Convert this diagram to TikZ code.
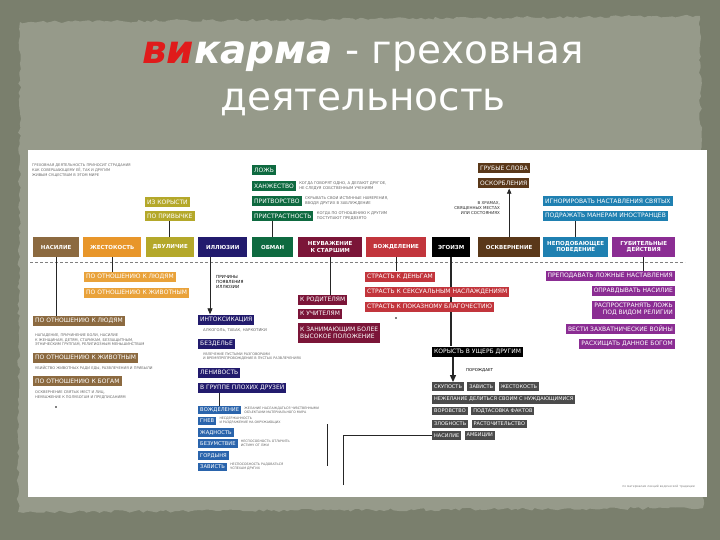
\documentclass[tikz,border=0pt]{standalone}
\usepackage{fontspec}
\setmainfont{DejaVu Sans}
\usetikzlibrary{positioning,arrows.meta,decorations.pathmorphing}

\definecolor{frameC}{HTML}{7A7F6D}
\definecolor{paperC}{HTML}{969A8A}
\definecolor{viC}{HTML}{E01B1B}
\definecolor{nasC}{HTML}{8C6A40}
\definecolor{zhestC}{HTML}{E8962A}
\definecolor{zhlightC}{HTML}{E9A23A}
\definecolor{dvulC}{HTML}{B4A82A}
\definecolor{illC}{HTML}{221B6D}
\definecolor{obmC}{HTML}{0E6A40}
\definecolor{neuvC}{HTML}{7B1538}
\definecolor{vozhC}{HTML}{C2353C}
\definecolor{oskvC}{HTML}{5A3819}
\definecolor{nepC}{HTML}{1F80B1}
\definecolor{gubC}{HTML}{8B2D93}
\definecolor{vragC}{HTML}{2A64AC}
\definecolor{greyC}{HTML}{4B4B4B}
\definecolor{noteC}{HTML}{666666}

\tikzset{
  cat/.style={fill=#1, text=white, font=\fontsize{5.5}{6.5}\selectfont\bfseries,
    minimum height=20, inner sep=1, align=center, anchor=west},
  sub/.style={fill=#1, text=white, font=\fontsize{6}{7}\selectfont,
    minimum height=10, inner xsep=2, inner ysep=1, anchor=west},
  vrag/.style={sub=vragC, font=\fontsize{5.2}{6}\selectfont, minimum height=8.5},
  greybox/.style={sub=greyC, font=\fontsize{5}{6}\selectfont, minimum height=8.5},
  remark/.style={text=noteC, font=\fontsize{3.8}{4.6}\selectfont, inner sep=0,
    align=left, anchor=west},
  wire/.style={draw=black!85, line width=0.8},
}

\begin{document}
\begin{tikzpicture}[x=1pt,y=-1pt]
    %% Background
    \useasboundingbox (0,0) rectangle (720,540);
    \fill[frameC] (0,0) rectangle (720,540);
    \fill[paperC, decorate, decoration={random steps,segment length=4pt,amplitude=1.5pt}]
        (20,22) -- (700,16) -- (703,508) -- (18,512) -- cycle;
    \fill[white] (28,150) rectangle (707,497);

    %% Title
    \node[anchor=base, text=white, font=\fontsize{39}{44}\selectfont] (title) at (363,64)
        {\textbf{\textit{\textcolor{viC}{ви}карма}} - греховная};
    \node[anchor=base, text=white, font=\fontsize{39}{44}\selectfont] (title2) at (363,111)
        {деятельность};

    %% Intro
    \node[remark, font=\fontsize{3.6}{5}\selectfont] (intro) at (32,170)
        {ГРЕХОВНАЯ ДЕЯТЕЛЬНОСТЬ ПРИНОСИТ СТРАДАНИЯ\\КАК СОВЕРШАЮЩЕМУ ЕЁ, ТАК И ДРУГИМ\\ЖИВЫМ СУЩЕСТВАМ В ЭТОМ МИРЕ};

    %% Main row
    \node[cat=nasC, minimum width=46] (nas) at (33,247) {НАСИЛИЕ};
    \node[cat=zhestC, minimum width=58] (zhest) at (83,247) {ЖЕСТОКОСТЬ};
    \node[cat=dvulC, minimum width=48] (dvul) at (146,247) {ДВУЛИЧИЕ};
    \node[cat=illC, minimum width=49] (illuz) at (198,247) {ИЛЛЮЗИИ};
    \node[cat=obmC, minimum width=41] (obman) at (252,247) {ОБМАН};
    \node[cat=neuvC, minimum width=64] (neuv) at (298,247) {НЕУВАЖЕНИЕ\\К СТАРШИМ};
    \node[cat=vozhC, minimum width=60] (vozhd) at (366,247) {ВОЖДЕЛЕНИЕ};
    \node[cat=black, minimum width=38] (egoizm) at (432,247) {ЭГОИЗМ};
    \node[cat=oskvC, minimum width=62] (oskv) at (478,247) {ОСКВЕРНЕНИЕ};
    \node[cat=nepC, minimum width=65] (nepod) at (543,247) {НЕПОДОБАЮЩЕЕ\\ПОВЕДЕНИЕ};
    \node[cat=gubC, minimum width=63] (gubit) at (612,247) {ГУБИТЕЛЬНЫЕ\\ДЕЙСТВИЯ};
    \draw[densely dashed, gray] (30,262) -- (685,262);

    %% Above the row
    \node[sub=dvulC] (izkor) at (145,202) {ИЗ КОРЫСТИ};
    \node[sub=dvulC] (poprv) at (145,216) {ПО ПРИВЫЧКЕ};
    \draw[wire] (poprv.south) -- (poprv.south |- dvul.north);

    \node[sub=obmC] (lozh) at (252,170.5) {ЛОЖЬ};
    \node[sub=obmC] (hanzh) at (252,186) {ХАНЖЕСТВО};
    \node[sub=obmC] (pritv) at (252,201) {ПРИТВОРСТВО};
    \node[sub=obmC] (pristr) at (252,216) {ПРИСТРАСТНОСТЬ};
    \node[remark, right=3pt of hanzh] (hanzhnote) {КОГДА ГОВОРЯТ ОДНО, А ДЕЛАЮТ ДРУГОЕ,\\НЕ СЛЕДУЯ СОБСТВЕННЫМ УЧЕНИЯМ};
    \node[remark, right=3pt of pritv] (pritvnote) {СКРЫВАТЬ СВОИ ИСТИННЫЕ НАМЕРЕНИЯ,\\ВВОДЯ ДРУГИХ В ЗАБЛУЖДЕНИЕ};
    \node[remark, right=3pt of pristr] (pristrnote) {КОГДА ПО ОТНОШЕНИЮ К ДРУГИМ\\ПОСТУПАЮТ ПРЕДВЗЯТО};
    \draw[wire] (obman.north) -- (obman.north |- pristr.south);

    \node[sub=oskvC] (grub) at (478,168.5) {ГРУБЫЕ СЛОВА};
    \node[sub=oskvC] (oskorb) at (478,183.5) {ОСКОРБЛЕНИЯ};
    \draw[wire, -{Triangle[length=5pt,width=4.5pt]}] (oskv.north) -- (oskv.north |- oskorb.south);
    \node[remark, anchor=east, align=right, text=black!85, font=\fontsize{4}{5}\selectfont] (oskvnote) at (500,208)
        {В ХРАМАХ,\\СВЯЩЕННЫХ МЕСТАХ\\ИЛИ СОСТОЯНИЯХ};

    \node[sub=nepC] (ignor) at (543,201) {ИГНОРИРОВАТЬ НАСТАВЛЕНИЯ СВЯТЫХ};
    \node[sub=nepC] (podr) at (543,216) {ПОДРАЖАТЬ МАНЕРАМ ИНОСТРАНЦЕВ};
    \draw[wire] (nepod.north) -- (nepod.north |- podr.south);

    %% Violence
    \node[sub=nasC] (nppl) at (33,321) {ПО ОТНОШЕНИЮ К ЛЮДЯМ};
    \node[remark, font=\fontsize{3.6}{4.6}\selectfont] (npplnote) at (35,340)
        {НАПАДЕНИЕ, ПРИЧИНЕНИЕ БОЛИ, НАСИЛИЕ\\К ЖЕНЩИНАМ, ДЕТЯМ, СТАРИКАМ, БЕЗЗАЩИТНЫМ,\\ЭТНИЧЕСКИМ ГРУППАМ, РЕЛИГИОЗНЫМ МЕНЬШИНСТВАМ};
    \node[sub=nasC] (nzhiv) at (33,357.5) {ПО ОТНОШЕНИЮ К ЖИВОТНЫМ};
    \node[remark, font=\fontsize{3.6}{4.6}\selectfont] (nzhivnote) at (35,368)
        {УБИЙСТВО ЖИВОТНЫХ РАДИ ЕДЫ, РАЗВЛЕЧЕНИЯ И ПРИБЫЛИ};
    \node[sub=nasC] (nbog) at (33,381) {ПО ОТНОШЕНИЮ К БОГАМ};
    \node[remark, font=\fontsize{3.6}{4.6}\selectfont] (nbognote) at (35,395)
        {ОСКВЕРНЕНИЕ СВЯТЫХ МЕСТ И ЛИЦ,\\НЕУВАЖЕНИЕ К ПОЛУБОГАМ И ПРЕДПИСАНИЯМ};
    \fill (56,407) circle (0.9);
    \draw[wire] (nas.south) -- (nas.south |- nppl.north);

    %% Cruelty
    \node[sub=zhlightC] (zppl) at (84,277) {ПО ОТНОШЕНИЮ К ЛЮДЯМ};
    \node[sub=zhlightC] (zzhiv) at (84,292.5) {ПО ОТНОШЕНИЮ К ЖИВОТНЫМ};
    \draw[wire] (zhest.south) -- (zhest.south |- zppl.north);

    %% Illusions
    \coordinate (illx) at ([xshift=12pt]illuz.south west);
    \node[remark, text=black, font=\fontsize{4.2}{5.2}\selectfont] (whyill) at (216,282)
        {ПРИЧИНЫ\\ПОЯВЛЕНИЯ\\ИЛЛЮЗИИ};
    \node[sub=illC] (intox) at (198,319.5) {ИНТОКСИКАЦИЯ};
    \node[remark] (intoxnote) at (203,330) {АЛКОГОЛЬ, ТАБАК, НАРКОТИКИ};
    \node[sub=illC] (bezd) at (198,343.5) {БЕЗДЕЛЬЕ};
    \node[remark, font=\fontsize{3.4}{4.4}\selectfont] (bezdnote) at (203,356.5)
        {УВЛЕЧЕНИЕ ПУСТЫМИ РАЗГОВОРАМИ\\И ВРЕМЯПРЕПРОВОЖДЕНИЕ В ПУСТЫХ РАЗВЛЕЧЕНИЯХ};
    \node[sub=illC] (lenv) at (198,372.5) {ЛЕНИВОСТЬ};
    \node[sub=illC] (grpp) at (198,387.5) {В ГРУППЕ ПЛОХИХ ДРУЗЕЙ};
    \draw[wire, -{Triangle[length=6pt,width=5pt]}] (illx) -- (illx |- intox.north);

    \node[vrag] (vozh2) at (198,410) {ВОЖДЕЛЕНИЕ};
    \node[vrag] (gnev) at (198,421) {ГНЕВ};
    \node[vrag] (zhad) at (198,432.5) {ЖАДНОСТЬ};
    \node[vrag] (bezum) at (198,443.5) {БЕЗУМСТВИЕ};
    \node[vrag] (gord) at (198,455.5) {ГОРДЫНЯ};
    \node[vrag] (zavist) at (198,467) {ЗАВИСТЬ};
    \node[remark, font=\fontsize{3.2}{4}\selectfont, right=3pt of vozh2] (vozh2note)
        {ЖЕЛАНИЕ НАСЛАЖДАТЬСЯ ЧУВСТВЕННЫМИ\\ОБЪЕКТАМИ МАТЕРИАЛЬНОГО МИРА};
    \node[remark, font=\fontsize{3.2}{4}\selectfont, right=3pt of gnev] (gnevnote)
        {НЕСДЕРЖАННОСТЬ\\И РАЗДРАЖЕНИЕ НА ОКРУЖАЮЩИХ};
    \node[remark, font=\fontsize{3.2}{4}\selectfont, right=3pt of bezum] (bezumnote)
        {НЕСПОСОБНОСТЬ ОТЛИЧИТЬ\\ИСТИНУ ОТ ЛЖИ};
    \node[remark, font=\fontsize{3.2}{4}\selectfont, right=3pt of zavist] (zavistnote)
        {НЕСПОСОБНОСТЬ РАДОВАТЬСЯ\\УСПЕХАМ ДРУГИХ};
    \draw[wire] (vozh2.north) -- (vozh2.north |- grpp.south);

    %% Disrespect
    \node[sub=neuvC] (rod) at (298,300) {К РОДИТЕЛЯМ};
    \node[sub=neuvC] (uch) at (298,313.5) {К УЧИТЕЛЯМ};
    \node[sub=neuvC, align=left, minimum height=20] (zan) at (298,333)
        {К ЗАНИМАЮЩИМ БОЛЕЕ\\ВЫСОКОЕ ПОЛОЖЕНИЕ};
    \draw[wire] (neuv.south) -- (neuv.south |- rod.north);

    %% Egoism (its line runs behind the lust boxes)
    \node[sub=black] (kor) at (432,351.5) {КОРЫСТЬ В УЩЕРБ ДРУГИМ};
    \draw[wire, line width=1.6] (egoizm.south) -- (egoizm.south |- kor.north);

    %% Lust
    \node[sub=vozhC] (den) at (365,276.5) {СТРАСТЬ К ДЕНЬГАМ};
    \node[sub=vozhC] (seks) at (365,291.5) {СТРАСТЬ К СЕКСУАЛЬНЫМ НАСЛАЖДЕНИЯМ};
    \node[sub=vozhC] (pokaz) at (365,306.5) {СТРАСТЬ К ПОКАЗНОМУ БЛАГОЧЕСТИЮ};
    \draw[wire] (vozhd.south) -- (vozhd.south |- den.north);
    \fill (396,318) circle (0.9);

    %% What egoism gives
    \node[greybox] (g1) at (432,386.5) {СКУПОСТЬ};
    \node[greybox, right=3pt of g1] (g2) {ЗАВИСТЬ};
    \node[greybox, right=3pt of g2] (g3) {ЖЕСТОКОСТЬ};
    \node[greybox] (g4) at (432,399.5) {НЕЖЕЛАНИЕ ДЕЛИТЬСЯ СВОИМ С НУЖДАЮЩИМИСЯ};
    \node[greybox] (g5) at (432,411) {ВОРОВСТВО};
    \node[greybox, right=3pt of g5] (g6) {ПОДТАСОВКА ФАКТОВ};
    \node[greybox] (g7) at (432,424) {ЗЛОБНОСТЬ};
    \node[greybox, right=3pt of g7] (g8) {РАСТОЧИТЕЛЬСТВО};
    \node[greybox] (g9) at (432,435.5) {НАСИЛИЕ};
    \node[greybox, right=3pt of g9] (g10) {АМБИЦИИ};
    \coordinate (korx) at ([xshift=21pt]kor.south west);
    \draw[wire, line width=1.2, -{Triangle[length=7pt,width=6pt]}] (korx) -- (korx |- g1.north);
    \node[remark, text=black, font=\fontsize{4}{5}\selectfont] (porozh) at (466,370) {ПОРОЖДАЕТ};

    %% Free lines
    \coordinate (brT) at (327,424);
    \coordinate (brB) at (327,466);
    \draw[wire] (brT) -- (brB);
    \coordinate (lstart) at (343,485);
    \draw[wire] (lstart) -- (lstart |- g9.west) -- (g9.west);

    %% Destructive acts
    \node[sub=gubC, anchor=east] (p1) at (675,276) {ПРЕПОДАВАТЬ ЛОЖНЫЕ НАСТАВЛЕНИЯ};
    \node[sub=gubC, anchor=east] (p2) at (675,291) {ОПРАВДЫВАТЬ НАСИЛИЕ};
    \node[sub=gubC, anchor=east, align=right, minimum height=18] (p3) at (675,309.5)
        {РАСПРОСТРАНЯТЬ ЛОЖЬ\\ПОД ВИДОМ РЕЛИГИИ};
    \node[sub=gubC, anchor=east] (p4) at (675,328.5) {ВЕСТИ ЗАХВАТНИЧЕСКИЕ ВОЙНЫ};
    \node[sub=gubC, anchor=east] (p5) at (675,343.5) {РАСХИЩАТЬ ДАННОЕ БОГОМ};
    \draw[wire] (gubit.south) -- (gubit.south |- p1.north);

    %% Source
    \node[remark, anchor=east, font=\fontsize{3}{4}\selectfont, text=gray] (source) at (695,487)
        {по материалам лекций ведической традиции};
\end{tikzpicture}
\end{document}
